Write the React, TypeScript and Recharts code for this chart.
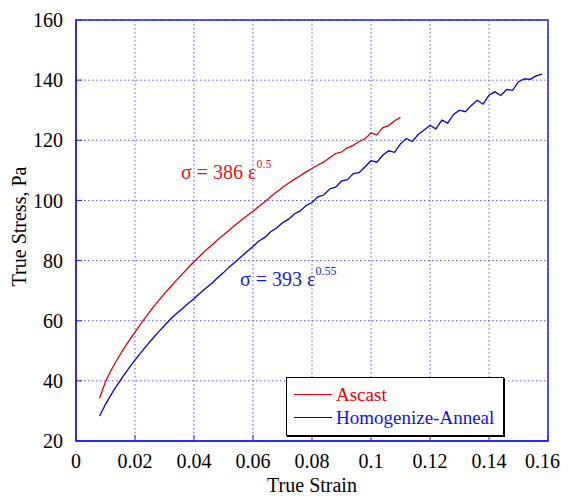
import { CartesianGrid, Legend, Line, LineChart, ReferenceArea, ReferenceDot, XAxis, YAxis } from "recharts";

const strain = [
  0.008, 0.01, 0.012, 0.014, 0.016, 0.018, 0.02, 0.022, 0.024, 0.026, 0.028, 0.03, 0.032, 0.034, 0.036, 0.038,
  0.04, 0.042, 0.044, 0.046, 0.048, 0.05, 0.052, 0.054, 0.056, 0.058, 0.06, 0.062, 0.064, 0.066, 0.068, 0.07,
  0.072, 0.074, 0.076, 0.078, 0.08, 0.082, 0.084, 0.086, 0.088, 0.09, 0.092, 0.094, 0.096, 0.098, 0.1, 0.102,
  0.104, 0.106, 0.108, 0.11, 0.112, 0.114, 0.116, 0.118, 0.12, 0.122, 0.124, 0.126, 0.128, 0.13, 0.132, 0.134,
  0.136, 0.138, 0.14, 0.142, 0.144, 0.146, 0.148, 0.15, 0.152, 0.154, 0.156, 0.158,
];

// ascast stops at 0.11 strain
const ascast = [
  34.2, 39.7, 43.7, 47.2, 50.4, 53.4, 56.2, 59.0, 61.7, 64.3, 66.7, 69.0, 71.2, 73.4, 75.5, 77.6,
  79.6, 81.5, 83.4, 85.1, 86.9, 88.5, 90.2, 91.8, 93.4, 94.9, 96.4, 98.0, 99.6, 101.2, 102.8, 104.3,
  105.7, 107.0, 108.2, 109.5, 110.6, 111.8, 112.8, 114.2, 115.6, 116.1, 117.5, 118.3, 119.6, 120.5, 122.4, 121.8,
  124.2, 124.9, 126.5, 127.6,
];

const anneal = [
  28.3, 32.2, 35.6, 38.7, 41.6, 44.3, 46.9, 49.4, 51.8, 54.1, 56.3, 58.4, 60.5, 62.3, 64.0, 65.7,
  67.3, 69.1, 70.8, 72.4, 74.3, 76.0, 77.9, 79.5, 81.3, 83.0, 84.7, 86.5, 87.7, 89.6, 90.8, 92.6,
  93.7, 95.5, 96.5, 98.3, 99.3, 101.2, 101.8, 103.8, 104.4, 106.4, 106.9, 108.9, 109.2, 111.2, 113.2, 112.7,
  115.0, 116.5, 116.0, 118.8, 120.6, 119.6, 121.9, 123.4, 124.9, 123.8, 126.7, 125.7, 128.6, 130.0, 129.5, 131.6,
  133.3, 132.0, 135.0, 136.1, 134.9, 136.9, 136.6, 139.5, 140.4, 140.3, 141.4, 142.0,
];

const xTicks = [0, 0.02, 0.04, 0.06, 0.08, 0.1, 0.12, 0.14, 0.16];
const yTicks = [20, 40, 60, 80, 100, 120, 140, 160];

const data = strain.map((s, i) => ({
  strain: s,
  ascast: ascast[i] ?? null,
  anneal: anneal[i],
}));

const FONT = "Liberation Serif, DejaVu Serif, Times New Roman, serif";
const RED = "#e00000";
const BLUE = "#0000d0";
const AXIS = "#2020f0";

function FitLabel(props: any) {
  const { viewBox, color, coef, exp } = props;
  return (
    <text x={viewBox.x} y={viewBox.y} fill={color} fontSize={20} fontFamily={FONT}>
      {"σ = " + coef + " ε"}
      <tspan dy={-11} fontSize={12}>
        {exp}
      </tspan>
    </text>
  );
}

function YTitle(props: any) {
  const { viewBox } = props;
  const cx = viewBox.x + 18;
  const cy = viewBox.y + viewBox.height / 2 - 4;
  return (
    <text x={cx} y={cy} transform={`rotate(-90 ${cx} ${cy})`} textAnchor="middle" fontSize={20} fontFamily={FONT} fill="#000">
      True Stress, Pa
    </text>
  );
}

function LegendBox(props: any) {
  const { payload } = props;
  return (
    <div
      style={{
        border: "1.5px solid #000",
        boxShadow: "1px 1px 0 #000",
        background: "#fff",
        width: 216,
        padding: "5px 0 6px 0",
        fontFamily: FONT,
        fontSize: 19,
      }}
    >
      {payload.map((p: any) => (
        <div key={p.value} style={{ display: "flex", alignItems: "center", height: 23 }}>
          <span style={{ display: "inline-block", marginLeft: 7, width: 38, height: 1, background: p.color }} />
          <span style={{ marginLeft: 4, color: p.color === RED ? "#ee0000" : "#1010ee" }}>{p.value}</span>
        </div>
      ))}
    </div>
  );
}

export default function App() {
  return (
    <LineChart width={552} height={488} data={data} margin={{ top: 12, right: 12, bottom: 0, left: 0 }}>
      <CartesianGrid stroke="#5858ff" strokeDasharray="1.5 2.5" />
      <XAxis
        dataKey="strain"
        type="number"
        domain={[0, 0.16]}
        ticks={xTicks}
        height={55}
        axisLine={{ stroke: AXIS, strokeWidth: 1.5 }}
        tickLine={{ stroke: AXIS }}
        tickSize={-6}
        tickMargin={19}
        tick={{ fill: "#000", fontSize: 20, fontFamily: FONT }}
        label={{ value: "True Strain", position: "insideBottom", offset: 4, fill: "#000", fontSize: 20, fontFamily: FONT }}
      />
      <YAxis
        type="number"
        domain={[20, 160]}
        ticks={yTicks}
        width={68}
        axisLine={{ stroke: AXIS, strokeWidth: 1.5 }}
        tickLine={{ stroke: AXIS }}
        tickSize={-6}
        tickMargin={19}
        tick={{ fill: "#000", fontSize: 20, fontFamily: FONT }}
        label={<YTitle />}
      />
      <ReferenceArea x1={0} x2={0.16} y1={20} y2={160} fill="none" stroke={AXIS} strokeWidth={1.5} />
      <Line
        dataKey="ascast"
        name="Ascast"
        type="linear"
        stroke={RED}
        strokeWidth={1.3}
        dot={false}
        isAnimationActive={false}
      />
      <Line
        dataKey="anneal"
        name="Homogenize-Anneal"
        type="linear"
        stroke={BLUE}
        strokeWidth={1.3}
        dot={false}
        isAnimationActive={false}
      />
      <ReferenceDot x={0.0356} y={107.1} r={0} fill="none" stroke="none" label={<FitLabel color="#ee1010" coef="386" exp="0.5" />} />
      <ReferenceDot x={0.0556} y={71.5} r={0} fill="none" stroke="none" label={<FitLabel color="#1818e8" coef="393" exp="0.55" />} />
      <Legend
        layout="vertical"
        align="center"
        verticalAlign="middle"
        content={<LegendBox />}
        wrapperStyle={{ left: 278, top: 369, width: "auto" }}
      />
    </LineChart>
  );
}
